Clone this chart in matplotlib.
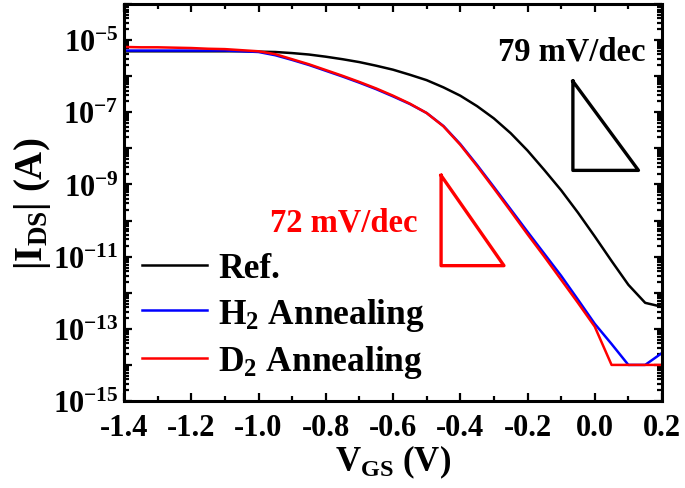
import matplotlib
matplotlib.use("Agg")
import matplotlib.pyplot as plt
import numpy as np
from matplotlib.ticker import FixedLocator, MultipleLocator, FuncFormatter, LogLocator, NullFormatter

plt.rcParams['font.family'] = ['Liberation Serif', 'DejaVu Serif']
plt.rcParams['font.weight'] = 'bold'
plt.rcParams['mathtext.fontset'] = 'custom'
plt.rcParams['mathtext.rm'] = 'Liberation Serif:bold'
plt.rcParams['mathtext.bf'] = 'Liberation Serif:bold'
plt.rcParams['mathtext.it'] = 'Liberation Serif:italic:bold'
plt.rcParams['mathtext.default'] = 'bf'
plt.rcParams['axes.unicode_minus'] = False

# gate voltage sweep (V)
vgs = np.round(np.arange(-1.4, 0.2001, 0.05), 2)

# log10 of |I_DS|
log_ref = [-5.31, -5.31, -5.31, -5.31, -5.31, -5.31, -5.31, -5.31, -5.32, -5.33,
           -5.36, -5.40, -5.46, -5.53, -5.61, -5.71, -5.82, -5.96, -6.11, -6.31,
           -6.54, -6.83, -7.17, -7.58, -8.06, -8.60, -9.16, -9.78, -10.44, -11.12,
           -11.78, -12.28, -12.39]
log_h2 = [-5.29, -5.29, -5.29, -5.29, -5.29, -5.29, -5.29, -5.31, -5.33, -5.42,
          -5.55, -5.69, -5.85, -6.01, -6.18, -6.36, -6.56, -6.77, -7.02, -7.38,
          -7.88, -8.46, -9.07, -9.69, -10.31, -10.92, -11.53, -12.19, -12.86, -13.42,
          -14.0, -14.0, -13.67]
log_d2 = [-5.19, -5.20, -5.20, -5.21, -5.22, -5.24, -5.25, -5.28, -5.31, -5.39,
          -5.53, -5.67, -5.83, -5.99, -6.16, -6.34, -6.54, -6.76, -7.02, -7.39,
          -7.90, -8.49, -9.11, -9.74, -10.38, -11.00, -11.64, -12.28, -12.94, -14.0,
          -14.0, -14.0, -14.0]

labels = ['Ref.', r'H$_2$ Annealing', r'D$_2$ Annealing']
colors = ['black', '#0000ff', '#ff0000']

# slope guide triangles (V, log10 A)
tri_ref_v = [-0.065, -0.065, 0.13, -0.065]
tri_ref_log = [-6.14, -8.61, -8.61, -6.14]
tri_d2_v = [-0.457, -0.457, -0.27, -0.457]
tri_d2_log = [-8.75, -11.25, -11.25, -8.75]

fig = plt.figure(figsize=(6.85, 4.89), dpi=100)
ax = fig.add_axes([124 / 685, 1 - 402 / 489, 538 / 685, 397 / 489])

for logs, lab, col in zip([log_ref, log_h2, log_d2], labels, colors):
    ax.plot(vgs, 10.0 ** np.array(logs), color=col, lw=1.8, label=lab)

ax.plot(tri_ref_v, 10.0 ** np.array(tri_ref_log), color='black', lw=2.4)
ax.plot(tri_d2_v, 10.0 ** np.array(tri_d2_log), color='#ff0000', lw=2.4)

ax.text(-0.068, 10 ** -5.3, '79 mV/dec', color='black', fontsize=23.5,
        fontweight='bold', ha='center', va='center')
ax.text(-0.746, 10 ** -10.05, '72 mV/dec', color='#ff0000', fontsize=23.5,
        fontweight='bold', ha='center', va='center')

ax.set_yscale('log')
ax.set_xlim(-1.4, 0.2)
ax.set_ylim(1e-15, 1e-4)

ax.xaxis.set_major_locator(MultipleLocator(0.2))
ax.xaxis.set_minor_locator(MultipleLocator(0.1))
ax.xaxis.set_major_formatter(FuncFormatter(lambda v, p: f"{v:.1f}".replace('-0.0', '0.0')))

ax.yaxis.set_major_locator(FixedLocator([10.0 ** e for e in range(-15, -3)]))
ax.yaxis.set_minor_locator(LogLocator(base=10, subs=np.arange(2, 10), numticks=30))
ax.yaxis.set_minor_formatter(NullFormatter())
ax.yaxis.set_major_formatter(FuncFormatter(
    lambda v, p: r'$\mathbf{10^{%d}}$' % round(np.log10(v)) if round(np.log10(v)) % 2 else ''))

ax.tick_params(which='both', direction='in', top=True, right=True, width=1.6)
ax.tick_params(which='major', length=6, labelsize=22)
ax.tick_params(which='minor', length=3.5)
ax.tick_params(axis='x', which='major', pad=9)
ax.tick_params(axis='y', which='major', pad=4)
for s in ax.spines.values():
    s.set_linewidth(2.2)

ax.set_xlabel(r'V$_{\mathbf{GS}}$ (V)', fontsize=25, fontweight='bold', labelpad=0)
ax.set_ylabel(r'|I$_{\mathbf{DS}}$| (A)', fontsize=28, fontweight='bold', labelpad=0)

ax.legend(loc='upper left', bbox_to_anchor=(0.033, 0.375), frameon=False,
          fontsize=25.5, handlelength=1.85, handletextpad=0.3, labelspacing=0.3,
          borderpad=0, borderaxespad=0)

fig.savefig('out.png', dpi=100)
